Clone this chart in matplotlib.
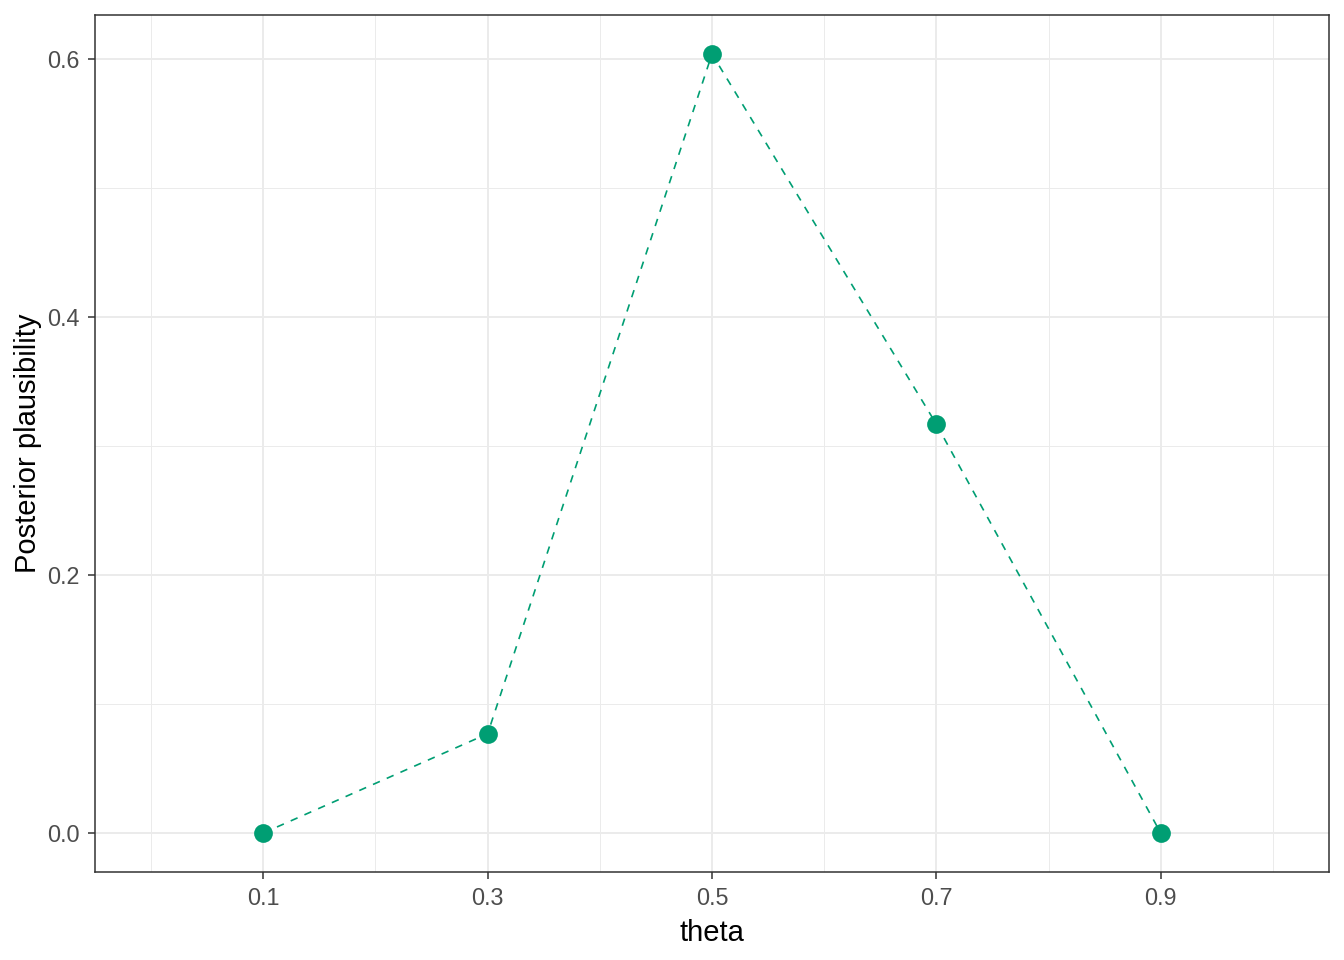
import numpy as np
import matplotlib
matplotlib.use("Agg")
import matplotlib.pyplot as plt
from matplotlib.ticker import MultipleLocator

# posterior over a grid of theta values
theta = [0.1, 0.3, 0.5, 0.7, 0.9]
posterior = [0.0, 0.077, 0.604, 0.317, 0.0]
x_ticks = [0.1, 0.3, 0.5, 0.7, 0.9]
y_ticks = [0.0, 0.2, 0.4, 0.6]

plt.rcParams['font.family'] = ['Liberation Sans', 'DejaVu Sans']
col = '#009E73'

fig = plt.figure(figsize=(13.44, 9.6), dpi=100)
ax = fig.add_axes([95/1344, 1 - 872/960, (1329-95)/1344, (872-15)/960])

ax.plot(theta, posterior, color=col, lw=1.2, dashes=(4.5, 4.5), zorder=3)
ax.plot(theta, posterior, 'o', color=col, ms=13.5, mec='none', zorder=4)

ax.set_xlim(-0.05, 1.05)
ymax = max(posterior)
ax.set_ylim(-0.05 * ymax, ymax * 1.05)

ax.set_xticks(x_ticks)
ax.set_xticklabels([f"{v:.1f}" for v in x_ticks])
ax.set_yticks(y_ticks)
ax.set_yticklabels([f"{v:.1f}" for v in y_ticks])
ax.xaxis.set_minor_locator(MultipleLocator(0.2))
ax.set_yticks([0.1, 0.3, 0.5], minor=True)

ax.grid(which='major', color='#EBEBEB', lw=1.4, zorder=0)
ax.grid(which='minor', color='#EBEBEB', lw=0.7, zorder=0)
ax.set_axisbelow(True)

for s in ax.spines.values():
    s.set_color('#333333')
    s.set_linewidth(1.1)

ax.tick_params(which='major', length=5, width=1.1, color='#333333',
               labelsize=16.8, labelcolor='#4D4D4D', pad=6)
ax.tick_params(which='minor', length=0)

ax.set_xlabel('theta', fontsize=21, color='black', labelpad=6)
ax.set_ylabel('Posterior plausibility', fontsize=21, color='black', labelpad=4)

fig.savefig('out.png', dpi=100)
